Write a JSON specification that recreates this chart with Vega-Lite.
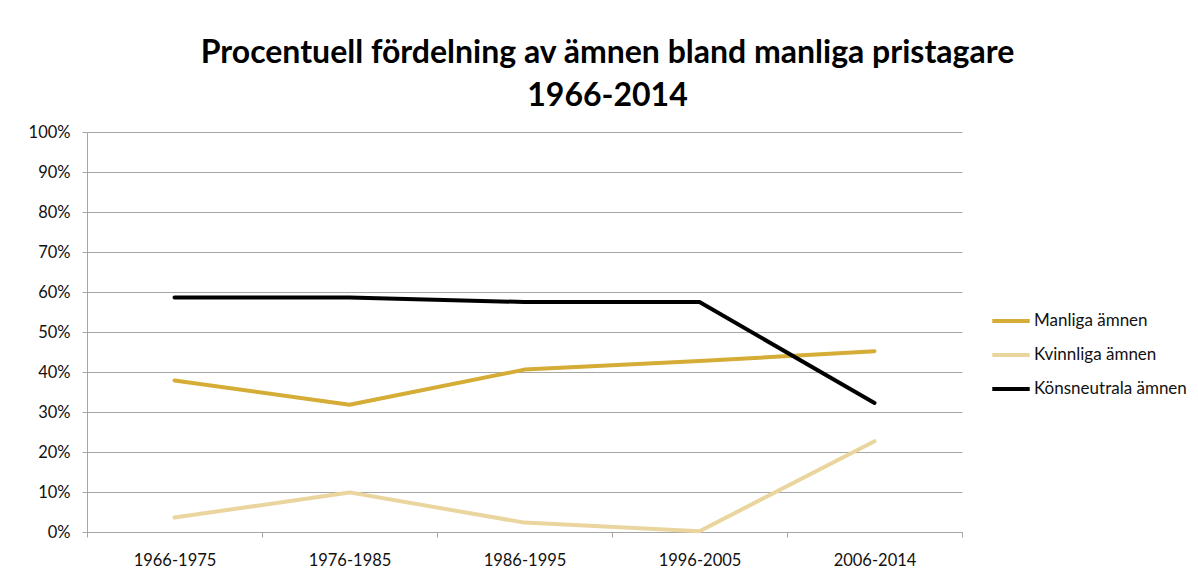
{
  "$schema": "https://vega.github.io/schema/vega-lite/v6.json",
  "autosize": {"type": "none"},
  "width": 875,
  "height": 400,
  "padding": {"left": 87, "top": 132, "right": 236, "bottom": 52},
  "background": "white",
  "title": {
    "text": ["Procentuell fördelning av ämnen bland manliga pristagare", "1966-2014"],
    "font": "Lato",
    "fontSize": 32,
    "fontWeight": "bold",
    "color": "#000000",
    "lineHeight": 43,
    "offset": 11,
    "dx": 83,
    "anchor": "middle"
  },
  "data": {
    "values": [
      {"period": "1966-1975", "serie": "Manliga ämnen", "andel": 0.379},
      {"period": "1976-1985", "serie": "Manliga ämnen", "andel": 0.318},
      {"period": "1986-1995", "serie": "Manliga ämnen", "andel": 0.406},
      {"period": "1996-2005", "serie": "Manliga ämnen", "andel": 0.4275},
      {"period": "2006-2014", "serie": "Manliga ämnen", "andel": 0.452},
      {"period": "1966-1975", "serie": "Kvinnliga ämnen", "andel": 0.036},
      {"period": "1976-1985", "serie": "Kvinnliga ämnen", "andel": 0.099},
      {"period": "1986-1995", "serie": "Kvinnliga ämnen", "andel": 0.0235},
      {"period": "1996-2005", "serie": "Kvinnliga ämnen", "andel": 0.002},
      {"period": "2006-2014", "serie": "Kvinnliga ämnen", "andel": 0.227},
      {"period": "1966-1975", "serie": "Könsneutrala ämnen", "andel": 0.586},
      {"period": "1976-1985", "serie": "Könsneutrala ämnen", "andel": 0.586},
      {"period": "1986-1995", "serie": "Könsneutrala ämnen", "andel": 0.575},
      {"period": "1996-2005", "serie": "Könsneutrala ämnen", "andel": 0.575},
      {"period": "2006-2014", "serie": "Könsneutrala ämnen", "andel": 0.3225}
    ]
  },
  "mark": {"type": "line", "strokeWidth": 4, "strokeCap": "round", "strokeJoin": "round"},
  "encoding": {
    "x": {
      "field": "period",
      "type": "ordinal",
      "bandPosition": 0.5,
      "scale": {"type": "band", "paddingInner": 0, "paddingOuter": 0},
      "axis": {
        "title": null,
        "labelAngle": 0,
        "tickBand": "extent",
        "grid": false,
        "domainColor": "#a6a6a6",
        "tickColor": "#a6a6a6",
        "tickSize": 5,
        "labelFont": "Lato",
        "labelFontSize": 16.5,
        "labelColor": "#111111",
        "labelPadding": 15
      }
    },
    "y": {
      "field": "andel",
      "type": "quantitative",
      "scale": {"domain": [0, 1], "nice": false},
      "axis": {
        "title": null,
        "values": [0, 0.1, 0.2, 0.3, 0.4, 0.5, 0.6, 0.7, 0.8, 0.9, 1],
        "format": ".0%",
        "grid": true,
        "gridColor": "#a6a6a6",
        "gridWidth": 1,
        "domainColor": "#a6a6a6",
        "tickColor": "#a6a6a6",
        "tickSize": 5,
        "labelFont": "Lato",
        "labelFontSize": 16.5,
        "labelColor": "#111111",
        "labelPadding": 12
      }
    },
    "color": {
      "field": "serie",
      "type": "nominal",
      "scale": {
        "domain": ["Manliga ämnen", "Kvinnliga ämnen", "Könsneutrala ämnen"],
        "range": ["#D4AC36", "#EAD59F", "#000000"]
      },
      "legend": {
        "title": null,
        "orient": "none",
        "legendX": 903,
        "legendY": 168,
        "symbolType": "stroke",
        "symbolSize": 1400,
        "symbolStrokeWidth": 4,
        "labelFont": "Lato",
        "labelFontSize": 17,
        "labelColor": "#111111",
        "labelOffset": 2,
        "rowPadding": 5
      }
    }
  },
  "config": {"view": {"stroke": null}}
}
